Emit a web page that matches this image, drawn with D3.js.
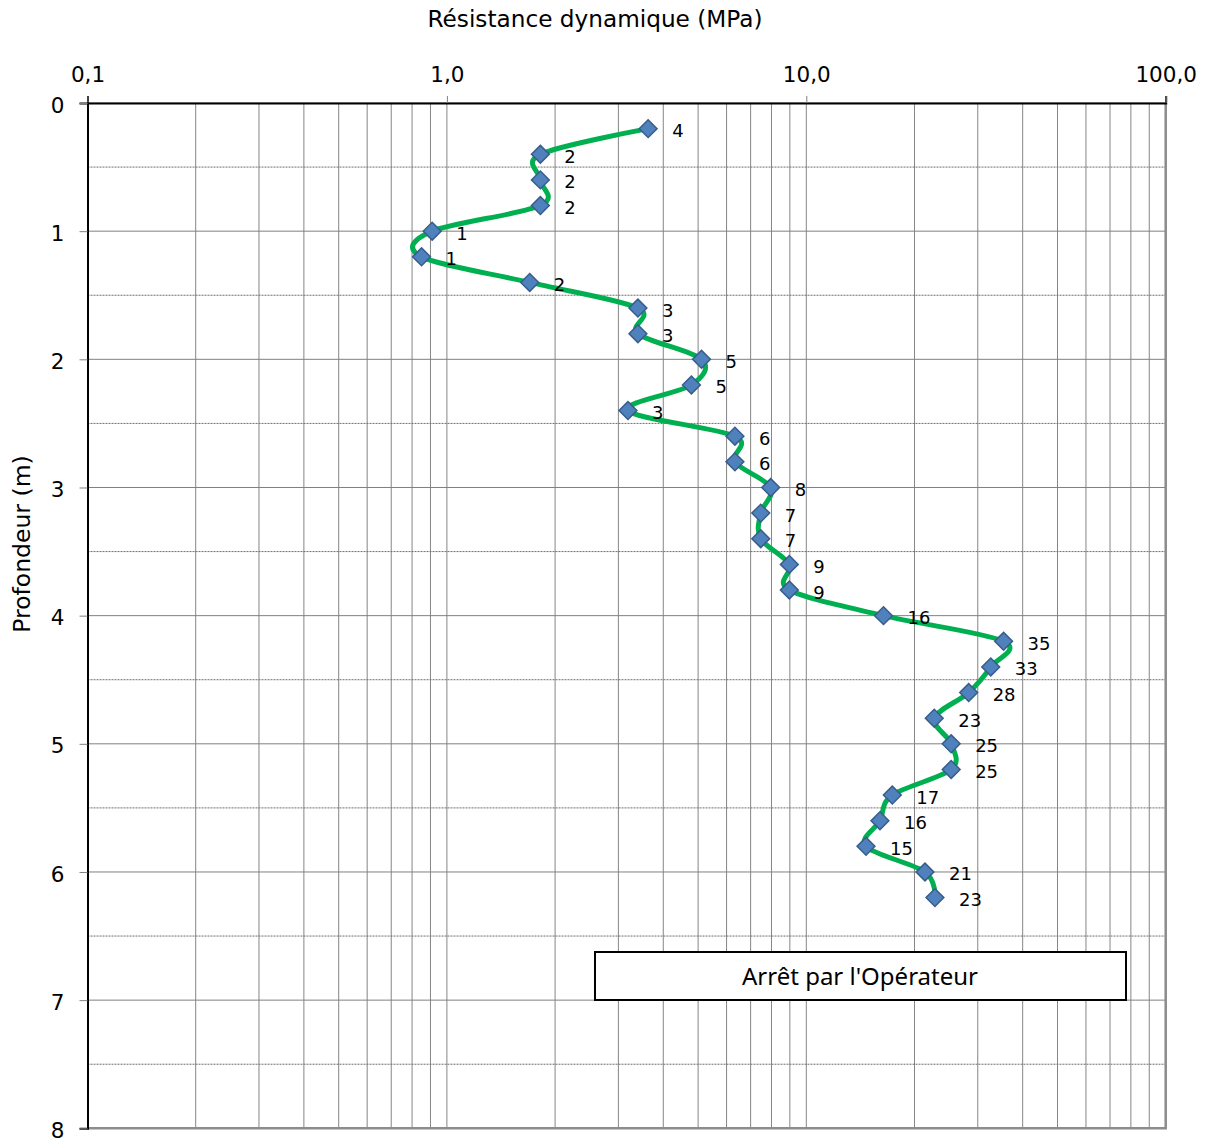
<!DOCTYPE html>
<html lang="fr">
<head>
    <meta charset="UTF-8">
    <title>Pénétromètre dynamique</title>
    <script src="https://d3js.org/d3.v7.min.js"></script>
    <style>
        body { margin: 0; background: #fff; }
        svg text { font-family: "DejaVu Sans", Verdana, sans-serif; fill: #000; }
    </style>
</head>
<body>

<div id="my_dataviz"></div>

<script>
    // Profondeur (m) de chaque mesure
    var depths = [0.2, 0.4, 0.6, 0.8, 1.0, 1.2, 1.4, 1.6, 1.8, 2.0, 2.2, 2.4, 2.6, 2.8, 3.0, 3.2,
                  3.4, 3.6, 3.8, 4.0, 4.2, 4.4, 4.6, 4.8, 5.0, 5.2, 5.4, 5.6, 5.8, 6.0, 6.2];
    // Résistance dynamique (MPa)
    var resistances = [3.63, 1.82, 1.82, 1.82, 0.91, 0.85, 1.70, 3.40, 3.40, 5.11, 4.79, 3.19, 6.33, 6.33, 7.96, 7.47,
                       7.47, 8.97, 8.97, 16.4, 35.4, 32.6, 28.3, 22.7, 25.3, 25.3, 17.35, 16.03, 14.66, 21.39, 22.8];
    // étiquettes affichées à côté des points
    var pointLabels = ["4", "2", "2", "2", "1", "1", "2", "3", "3", "5", "5", "3", "6", "6", "8", "7",
                       "7", "9", "9", "16", "35", "33", "28", "23", "25", "25", "17", "16", "15", "21", "23"];

    var xTicks = [0.1, 1, 10, 100];
    var xTickLabels = ["0,1", "1,0", "10,0", "100,0"];
    var yTicks = [0, 1, 2, 3, 4, 5, 6, 7, 8];

    var data = depths.map(function(d, i) { return {depth: d, value: resistances[i], label: pointLabels[i]}; });

    var margin = {top: 103, right: 42.3, bottom: 13.7, left: 87.5},
        width = 1208 - margin.left - margin.right,
        height = 1142 - margin.top - margin.bottom;

    var svgRoot = d3.select("#my_dataviz").append("svg")
        .attr("width", 1208)
        .attr("height", 1142);

    svgRoot.append("rect").attr("width", 1208).attr("height", 1142).attr("fill", "#fff");

    var svg = svgRoot.append("g")
        .attr("transform", "translate(" + margin.left + "," + margin.top + ")");

    var x = d3.scaleLog()
        .domain([0.1, 100])
        .range([0, width]);

    var y = d3.scaleLinear()
        .domain([0, 8])
        .range([0, height]);

    // vertical grid (every log subdivision)
    svg.append("g")
        .selectAll("line")
        .data(x.ticks())
        .join("line")
        .attr("x1", function(d) { return x(d); })
        .attr("x2", function(d) { return x(d); })
        .attr("y1", 0)
        .attr("y2", height)
        .attr("stroke", "#858585")
        .attr("stroke-width", 1);

    // horizontal grid: solid at each metre, dotted at half metres
    svg.append("g")
        .selectAll("line")
        .data(d3.range(0, 8.01, 0.5))
        .join("line")
        .attr("x1", 0)
        .attr("x2", width)
        .attr("y1", function(d) { return y(d); })
        .attr("y2", function(d) { return y(d); })
        .attr("stroke", function(d) { return d % 1 === 0 ? "#808080" : "#6e6e6e"; })
        .attr("stroke-width", 1)
        .attr("stroke-dasharray", function(d) { return d % 1 === 0 ? null : "2,1"; });

    // right and bottom frame
    svg.append("path")
        .attr("d", "M" + width + ",0V" + height + "H0")
        .attr("fill", "none")
        .attr("stroke", "#8c8c8c")
        .attr("stroke-width", 2.5);

    // X axis on top
    var xAxis = svg.append("g")
        .call(d3.axisTop(x)
            .tickValues(xTicks)
            .tickFormat(function(d, i) { return xTickLabels[i]; })
            .tickSize(7)
            .tickPadding(14));
    xAxis.select(".domain").attr("stroke", "#000").attr("stroke-width", 2);
    xAxis.selectAll(".tick line").attr("stroke", "#808080");
    xAxis.selectAll("text").attr("font-size", 21.5).attr("font-family", "DejaVu Sans");

    // Y axis on the left
    var yAxis = svg.append("g")
        .call(d3.axisLeft(y)
            .tickValues(yTicks)
            .tickFormat(d3.format("d"))
            .tickSize(8)
            .tickPadding(15));
    yAxis.select(".domain").attr("stroke", "#000").attr("stroke-width", 2);
    yAxis.selectAll(".tick line").attr("stroke", "#808080");
    yAxis.selectAll("text").attr("font-size", 21.5).attr("font-family", "DejaVu Sans").attr("dy", "0.42em");

    // axis titles
    svgRoot.append("text")
        .attr("x", 595)
        .attr("y", 27)
        .attr("text-anchor", "middle")
        .attr("font-size", 23.2)
        .text("Résistance dynamique (MPa)");

    svgRoot.append("text")
        .attr("transform", "translate(30,544) rotate(-90)")
        .attr("text-anchor", "middle")
        .attr("font-size", 23.5)
        .text("Profondeur (m)");

    // smoothed line
    svg.append("path")
        .datum(data)
        .attr("fill", "none")
        .attr("stroke", "#00b050")
        .attr("stroke-width", 5)
        .attr("stroke-linejoin", "round")
        .attr("d", d3.line()
            .curve(d3.curveCardinal.tension(0))
            .x(function(d) { return x(d.value); })
            .y(function(d) { return y(d.depth); })
        );

    // diamond markers
    svg.append("g")
        .selectAll("rect")
        .data(data)
        .join("rect")
        .attr("x", -6.3)
        .attr("y", -6.3)
        .attr("width", 12.6)
        .attr("height", 12.6)
        .attr("transform", function(d) { return "translate(" + x(d.value) + "," + y(d.depth) + ") rotate(45)"; })
        .attr("fill", "#4f81bd")
        .attr("stroke", "#385d8a")
        .attr("stroke-width", 1.5);

    // data labels
    svg.append("g")
        .selectAll("text")
        .data(data)
        .join("text")
        .attr("x", function(d) { return x(d.value) + 24; })
        .attr("y", function(d) { return y(d.depth) + 8.5; })
        .attr("font-size", 18)
        .text(function(d) { return d.label; });

    // text box
    var note = svgRoot.append("g");
    note.append("rect")
        .attr("x", 595)
        .attr("y", 952)
        .attr("width", 531)
        .attr("height", 48)
        .attr("fill", "#fff")
        .attr("stroke", "#000")
        .attr("stroke-width", 2);
    note.append("text")
        .attr("x", 860)
        .attr("y", 985)
        .attr("text-anchor", "middle")
        .attr("font-size", 24)
        .style("font-family", "'Noto Sans', 'Open Sans', sans-serif")
        .text("Arrêt par l'Opérateur");
</script>

</body>
</html>
